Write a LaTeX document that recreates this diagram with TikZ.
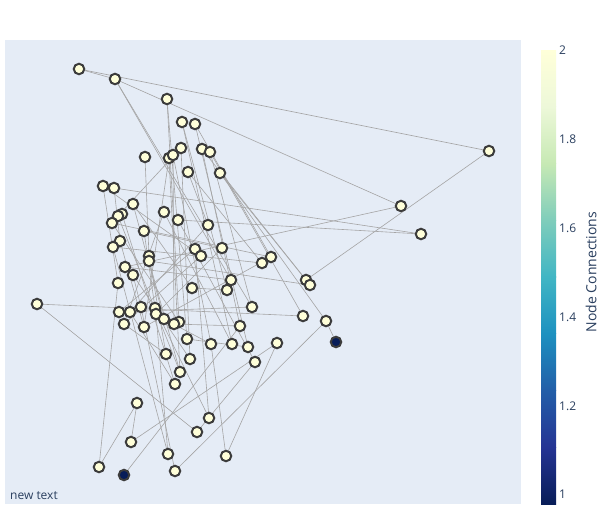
\documentclass[tikz,border=0pt]{standalone}
\usepackage{fontspec}
\setmainfont{Open Sans}
\pgfdeclarelayer{bglayer}
\pgfdeclarelayer{edges}
\pgfsetlayers{bglayer,edges,main}
\definecolor{ylw}{RGB}{255,255,217}
\definecolor{navy}{RGB}{8,29,88}
\definecolor{plotbg}{RGB}{229,236,246}
\definecolor{txt}{RGB}{42,63,95}
\definecolor{edgec}{RGB}{165,165,165}
\definecolor{ringc}{RGB}{60,60,60}
\definecolor{cA}{RGB}{255,255,217}
\definecolor{cB}{RGB}{237,248,217}
\definecolor{cC}{RGB}{199,233,180}
\definecolor{cD}{RGB}{127,205,187}
\definecolor{cE}{RGB}{65,182,196}
\definecolor{cF}{RGB}{29,145,192}
\definecolor{cG}{RGB}{34,94,168}
\definecolor{cH}{RGB}{37,52,148}
\definecolor{cI}{RGB}{8,29,88}
\tikzset{
  dot/.style={circle,inner sep=0pt,minimum size=10.5pt,draw=ringc,line width=2pt,fill=ylw},
  darkdot/.style={dot,fill=navy},
  link/.style={draw=edgec,line width=0.6pt},
  ticklab/.style={anchor=west,text=txt,font=\fontsize{12}{14}\selectfont,inner sep=0pt}
}
\begin{document}
\begin{tikzpicture}[x=1pt,y=-1pt]
\useasboundingbox (0,0) rectangle (613,525);
\begin{pgfonlayer}{bglayer}
\fill[white] (0,0) rectangle (613,525);
\fill[plotbg] (5,40) rectangle (521,504);
\end{pgfonlayer}
% nodes
\foreach \i/\x/\y in {1/79/69,2/115/79,3/167/99,4/182/122,5/195/124,6/489/151,7/145/157,8/169/158,9/173/155,10/181/148,
 11/202/149,12/210/152,13/188/172,14/220/173,15/103/186,16/114/188,17/133/204,18/401/206,19/164/212,20/178/220,
 21/122/214,22/118/216,23/112/223,24/208/225,25/144/231,26/421/234,27/120/241,28/113/247,29/195/249,30/201/256,
 31/222/248,32/149/256,33/149/261,34/271/257,35/262/263,36/125/267,37/133/275,38/231/280,39/306/280,40/310/285,
 41/118/283,42/192/288,43/227/290,44/37/304,45/141/307,46/155/308,47/252/307,48/119/312,49/130/312,50/156/314,
 51/303/316,52/164/319,53/326/321,54/179/322,55/174/324,56/124/324,57/144/327,58/240/326,59/187/339,
 61/211/344,62/232/344,63/248/347,64/277/343,65/166/354,66/190/359,67/255/362,68/180/372,69/175/384,70/137/403,
 71/209/418,72/197/432,73/131/442,74/168/454,75/226/456,76/99/467,77/175/471}
  {\node[dot] (n\i) at (\x,\y) {};}
\node[darkdot] (n60) at (336,342) {};
\node[darkdot] (n78) at (124,475) {};
% edges
\begin{pgfonlayer}{edges}
\foreach \a/\b in {1/6,1/2,2/18,2/38,2/47,6/39,3/59,3/54,4/62,4/43,5/63,11/40,12/51,14/53,14/39,13/35,10/66,9/55,8/68,7/32,
 15/41,16/26,20/26,36/18,36/38,33/40,44/51,44/72,76/41,76/70,70/73,73/64,72/67,78/58,64/75,61/75,53/60,77/53,77/45,
 74/50,74/28,71/29,71/46,17/52,17/42,19/62,20/67,21/69,22/68,23/34,24/49,24/13,25/46,25/31,27/57,28/35,29/48,30/56,
 31/50,32/65,33/68,34/57,37/66,37/45,47/48,49/69,52/61,54/23,55/58,56/65,59/63,16/27,22/10,15/30,42/43,5/34,8/57,
 11/58,12/47,9/61,19/56}
  {\draw[link] (n\a.center) -- (n\b.center);}
\end{pgfonlayer}
% colorbar
\shade[top color=cA,bottom color=cB] (541,50) rectangle (556,106.75);
\shade[top color=cB,bottom color=cC] (541,106.5) rectangle (556,163.5);
\shade[top color=cC,bottom color=cD] (541,163.25) rectangle (556,220.25);
\shade[top color=cD,bottom color=cE] (541,220) rectangle (556,277);
\shade[top color=cE,bottom color=cF] (541,276.75) rectangle (556,333.75);
\shade[top color=cF,bottom color=cG] (541,333.5) rectangle (556,390.5);
\shade[top color=cG,bottom color=cH] (541,390.25) rectangle (556,447.25);
\shade[top color=cH,bottom color=cI] (541,447) rectangle (556,504);
\node[ticklab] (t2) at (559,50) {2};
\node[ticklab] (t18) at (559,139) {1.8};
\node[ticklab] (t16) at (559,228) {1.6};
\node[ticklab] (t14) at (559,317) {1.4};
\node[ticklab] (t12) at (559,406) {1.2};
\node[ticklab] (t1) at (559,494) {1};
\node[rotate=90,text=txt,font=\fontsize{14}{16}\selectfont,inner sep=0pt] (cbtitle) at (591,272) {Node Connections};
\node[anchor=west,text=txt,font=\fontsize{12}{14}\selectfont,inner sep=0pt] (newtext) at (10,496) {new text};
\end{tikzpicture}
\end{document}
